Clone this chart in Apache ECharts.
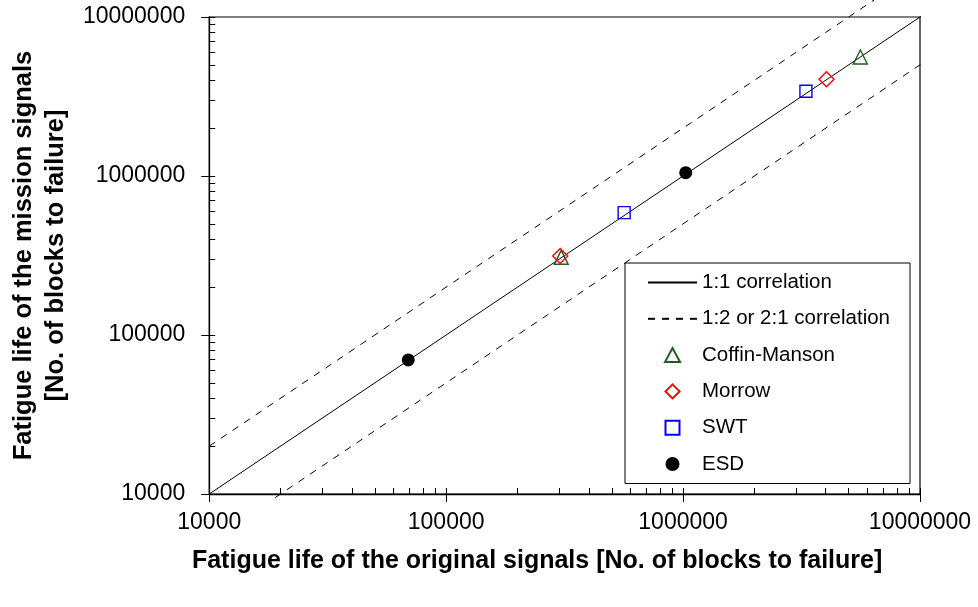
<!DOCTYPE html>
<html>
<head>
<meta charset="utf-8">
<script src="https://cdn.jsdelivr.net/npm/echarts@6/dist/echarts.min.js"></script>
<style>
  html, body { margin: 0; padding: 0; background: #ffffff; }
  #chart { width: 978px; height: 607px; }
</style>
</head>
<body>
<div id="chart"></div>
<script>
// Fatigue life comparison: original vs mission signals (log-log)
const FONT = '"Liberation Sans", Arial, Helvetica, sans-serif';

const axisMin = 10000;
const axisMax = 10000000;
const majorTickValues = [10000, 100000, 1000000, 10000000];
const innerTickValues = [
  10000, 20000, 30000, 40000, 50000, 60000, 70000, 80000, 90000,
  100000, 200000, 300000, 400000, 500000, 600000, 700000, 800000, 900000,
  1000000, 2000000, 3000000, 4000000, 5000000, 6000000, 7000000, 8000000, 9000000,
  10000000
];

// reference lines: [original, mission]
const oneToOneLine = [[9300, 9300], [11000000, 11000000]];
const twoToOneLine = [[10000, 20000], [6500000, 13000000]];
const oneToTwoLine = [[19000, 9500], [11000000, 5500000]];

// fatigue life results [original signals, mission signals]
const coffinManson = [[306000, 308000], [5600000, 5600000]];
const morrow       = [[303000, 314000], [4030000, 4060000]];
const swt          = [[564000, 588000], [3300000, 3410000]];
const esd          = [[69200, 69700], [1026000, 1049000]];

const xTitle = 'Fatigue life of the original signals [No. of blocks to failure]';
const yTitle = 'Fatigue life of the mission signals\n[No. of blocks to failure]';

// legend glyphs kept square inside the wide legend slot
const ICON_TRIANGLE = 'path://M0,13 L7,0 L14,13 Z';
const ICON_DIAMOND = 'path://M7,0 L14,7 L7,14 L0,7 Z';
const ICON_SQUARE = 'path://M0,0 L13,0 L13,13 L0,13 Z';

const chart = echarts.init(document.getElementById('chart'), null, { renderer: 'canvas' });

const fmt = v => String(Math.round(v));

function mainAxis(isX) {
  return {
    type: 'log',
    logBase: 10,
    min: axisMin,
    max: axisMax,
    position: isX ? 'bottom' : 'left',
    axisLine: { show: true, lineStyle: { color: '#000', width: 1.3 } },
    axisTick: { show: true, inside: false, length: 8, customValues: majorTickValues, lineStyle: { color: '#000', width: 1 } },
    axisLabel: {
      show: true, customValues: majorTickValues, formatter: fmt,
      fontFamily: FONT, fontSize: 23, color: '#000', margin: isX ? 17 : 24
    },
    splitLine: { show: false },
    minorTick: { show: false },
    name: isX ? xTitle : yTitle,
    nameLocation: 'middle',
    nameGap: isX ? 55 : 135,
    nameRotate: isX ? 0 : 90,
    nameTextStyle: isX
      ? { fontFamily: FONT, fontSize: 25, fontWeight: 'bold', color: '#000', padding: [0, 55, 0, 0] }
      : { fontFamily: FONT, fontSize: 25.5, fontWeight: 'bold', color: '#000', lineHeight: 32 }
  };
}

function innerAxis(isX) {
  return {
    type: 'log',
    logBase: 10,
    min: axisMin,
    max: axisMax,
    position: isX ? 'bottom' : 'left',
    offset: 0,
    axisLine: { show: false },
    axisTick: { show: true, inside: true, length: 6, customValues: innerTickValues, lineStyle: { color: '#000', width: 1 } },
    axisLabel: { show: false },
    splitLine: { show: false }
  };
}

const lineSeries = (name, data, type, z) => ({
  name, type: 'line', data, clip: false, showSymbol: false, symbol: 'none',
  itemStyle: { color: '#000' },
  lineStyle: { color: '#000', width: 1, type }, z, silent: true, animation: false
});

const scatterSeries = (name, data, symbol, size, itemStyle) => ({
  name, type: 'scatter', data, symbol, symbolSize: size,
  itemStyle: Object.assign({ opacity: 1 }, itemStyle), z: 5, animation: false
});

const hiddenMarker = { color: 'rgba(0,0,0,0)', borderWidth: 0 };

chart.setOption({
  backgroundColor: '#ffffff',
  animation: false,
  textStyle: { fontFamily: FONT },
  grid: {
    left: 207, right: 58, top: 17, bottom: 113,
    show: true, borderColor: '#000', borderWidth: 1.2, backgroundColor: 'transparent'
  },
  xAxis: [mainAxis(true), innerAxis(true)],
  yAxis: [mainAxis(false), innerAxis(false)],
  legend: {
    orient: 'vertical',
    left: 625, top: 263,
    padding: [9, 20, 9, 22],
    itemWidth: 49, itemHeight: 14, itemGap: 15.3,
    symbolKeepAspect: true,
    backgroundColor: '#ffffff',
    borderColor: '#000', borderWidth: 1,
    textStyle: { fontFamily: FONT, fontSize: 20.5, color: '#000', lineHeight: 20 },
    data: [
      { name: '1:1 correlation', itemStyle: hiddenMarker },
      { name: '1:2 or 2:1 correlation', itemStyle: hiddenMarker },
      { name: 'Coffin-Manson', icon: ICON_TRIANGLE },
      { name: 'Morrow', icon: ICON_DIAMOND },
      { name: 'SWT', icon: ICON_SQUARE },
      { name: 'ESD', icon: 'circle' }
    ],
    selectedMode: false
  },
  series: [
    lineSeries('1:1 correlation', oneToOneLine, 'solid', 2),
    lineSeries('1:2 or 2:1 correlation', twoToOneLine, [7, 7], 2),
    lineSeries('1:2 or 2:1 correlation', oneToTwoLine, [7, 7], 2),
    scatterSeries('Coffin-Manson', coffinManson, 'triangle', 14,
      { color: 'rgba(255,255,255,0)', borderColor: '#1f5c1f', borderWidth: 1.4 }),
    scatterSeries('Morrow', morrow, 'diamond', 15,
      { color: 'rgba(255,255,255,0)', borderColor: '#ff0000', borderWidth: 1.4 }),
    scatterSeries('SWT', swt, 'rect', 12,
      { color: 'rgba(255,255,255,0)', borderColor: '#0000ff', borderWidth: 1.4 }),
    scatterSeries('ESD', esd, 'circle', 13,
      { color: '#000000', borderColor: '#000000', borderWidth: 0 })
  ]
});
</script>
</body>
</html>
